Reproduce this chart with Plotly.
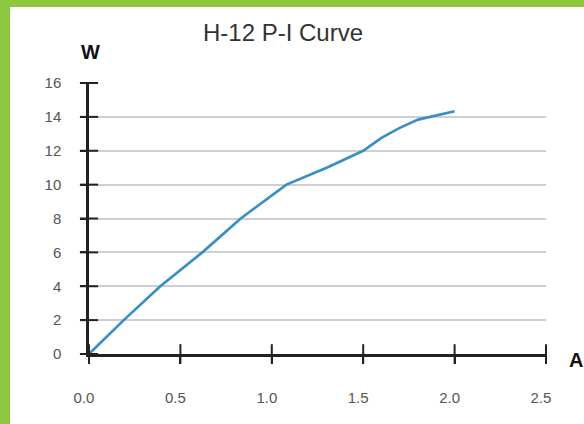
import plotly.graph_objects as go

# Data
current_a = [0.0, 0.19, 0.39, 0.62, 0.83, 1.08, 1.30, 1.50, 1.60, 1.70, 1.80, 2.00]
power_w = [0.0, 2.0, 4.0, 6.0, 8.0, 10.0, 11.0, 12.0, 12.76, 13.35, 13.84, 14.33]

x_ticks = [0.0, 0.5, 1.0, 1.5, 2.0, 2.5]
x_tick_labels = ["0.0", "0.5", "1.0", "1.5", "2.0", "2.5"]
y_ticks = [0, 2, 4, 6, 8, 10, 12, 14, 16]
y_tick_labels = [str(v) for v in y_ticks]

title_text = "H-12 P-I Curve"
y_unit = "W"
x_unit = "A"

W, H = 584, 424
ML, MR, MT, MB = 89, 38, 83, 70
PW = W - ML - MR
PH = H - MT - MB

FONT = "Liberation Sans, Arial, sans-serif"
AXIS_COLOR = "#222222"
GREEN = "#8dc63f"

fig = go.Figure()

fig.add_trace(go.Scatter(
    x=current_a, y=power_w, mode="lines",
    line=dict(color="#3b8fc0", width=2.7),
    cliponaxis=False, showlegend=False, hoverinfo="skip",
))

# crossing tick marks, placed through the axes' own scales
fig.add_trace(go.Scatter(
    x=x_ticks, y=[0] * len(x_ticks), mode="markers",
    marker=dict(symbol="line-ns-open", size=14, color=AXIS_COLOR,
                line=dict(color=AXIS_COLOR, width=2)),
    cliponaxis=False, showlegend=False, hoverinfo="skip",
))
fig.add_trace(go.Scatter(
    x=[0] * len(y_ticks), y=y_ticks, mode="markers",
    marker=dict(symbol="line-ew-open", size=13, color=AXIS_COLOR,
                line=dict(color=AXIS_COLOR, width=2)),
    cliponaxis=False, showlegend=False, hoverinfo="skip",
))

fig.update_layout(
    width=W, height=H,
    margin=dict(l=ML, r=MR, t=MT, b=MB, pad=0),
    paper_bgcolor="white", plot_bgcolor="white",
    font=dict(family=FONT, color="#555555", size=15),
    title=dict(text=title_text, x=283 / W, xref="container", xanchor="center",
               y=1 - 33 / H, yref="container", yanchor="middle",
               font=dict(family=FONT, size=24, color="#333333")),
    xaxis=dict(range=[0, 2.5], tickmode="array", tickvals=x_ticks,
               ticktext=x_tick_labels, ticks="outside", ticklen=7,
               tickwidth=2, tickcolor=AXIS_COLOR,
               showline=True, linecolor=AXIS_COLOR, linewidth=2.5,
               showgrid=False, zeroline=False, fixedrange=True,
               ticklabelstandoff=21, ticklabelshift=-5,
               tickfont=dict(family=FONT, size=15, color="#555555")),
    yaxis=dict(range=[0, 16], tickmode="array", tickvals=y_ticks,
               ticktext=y_tick_labels, ticks="outside", ticklen=6,
               tickwidth=2, tickcolor=AXIS_COLOR,
               showline=True, linecolor=AXIS_COLOR, linewidth=2.5,
               showgrid=True, gridcolor="#cbcfd6", gridwidth=1.7,
               zeroline=False, fixedrange=True,
               ticklabelstandoff=16,
               tickfont=dict(family=FONT, size=15, color="#555555")),
    annotations=[
        dict(text="<b>" + y_unit + "</b>", xref="paper", yref="paper",
             x=1 / PW, y=1 + 31 / PH, xanchor="center", yanchor="middle",
             showarrow=False, font=dict(family=FONT, size=20, color="#111111")),
        dict(text="<b>" + x_unit + "</b>", xref="paper", yref="paper",
             x=1 + 30 / PW, y=-6 / PH, xanchor="center", yanchor="middle",
             showarrow=False, font=dict(family=FONT, size=20, color="#111111")),
    ],
    shapes=[
        # green frame strips (left and top)
        dict(type="rect", xref="paper", yref="paper",
             x0=-ML / PW, x1=(10 - ML) / PW, y0=-MB / PH, y1=1 + MT / PH,
             fillcolor=GREEN, line=dict(width=0), layer="above"),
        dict(type="rect", xref="paper", yref="paper",
             x0=-ML / PW, x1=1 + MR / PW, y0=1 + (MT - 7) / PH, y1=1 + MT / PH,
             fillcolor=GREEN, line=dict(width=0), layer="above"),
    ],
)

fig.write_html("out.html", config={"displayModeBar": False},
               post_script="document.body.style.margin='0';")
